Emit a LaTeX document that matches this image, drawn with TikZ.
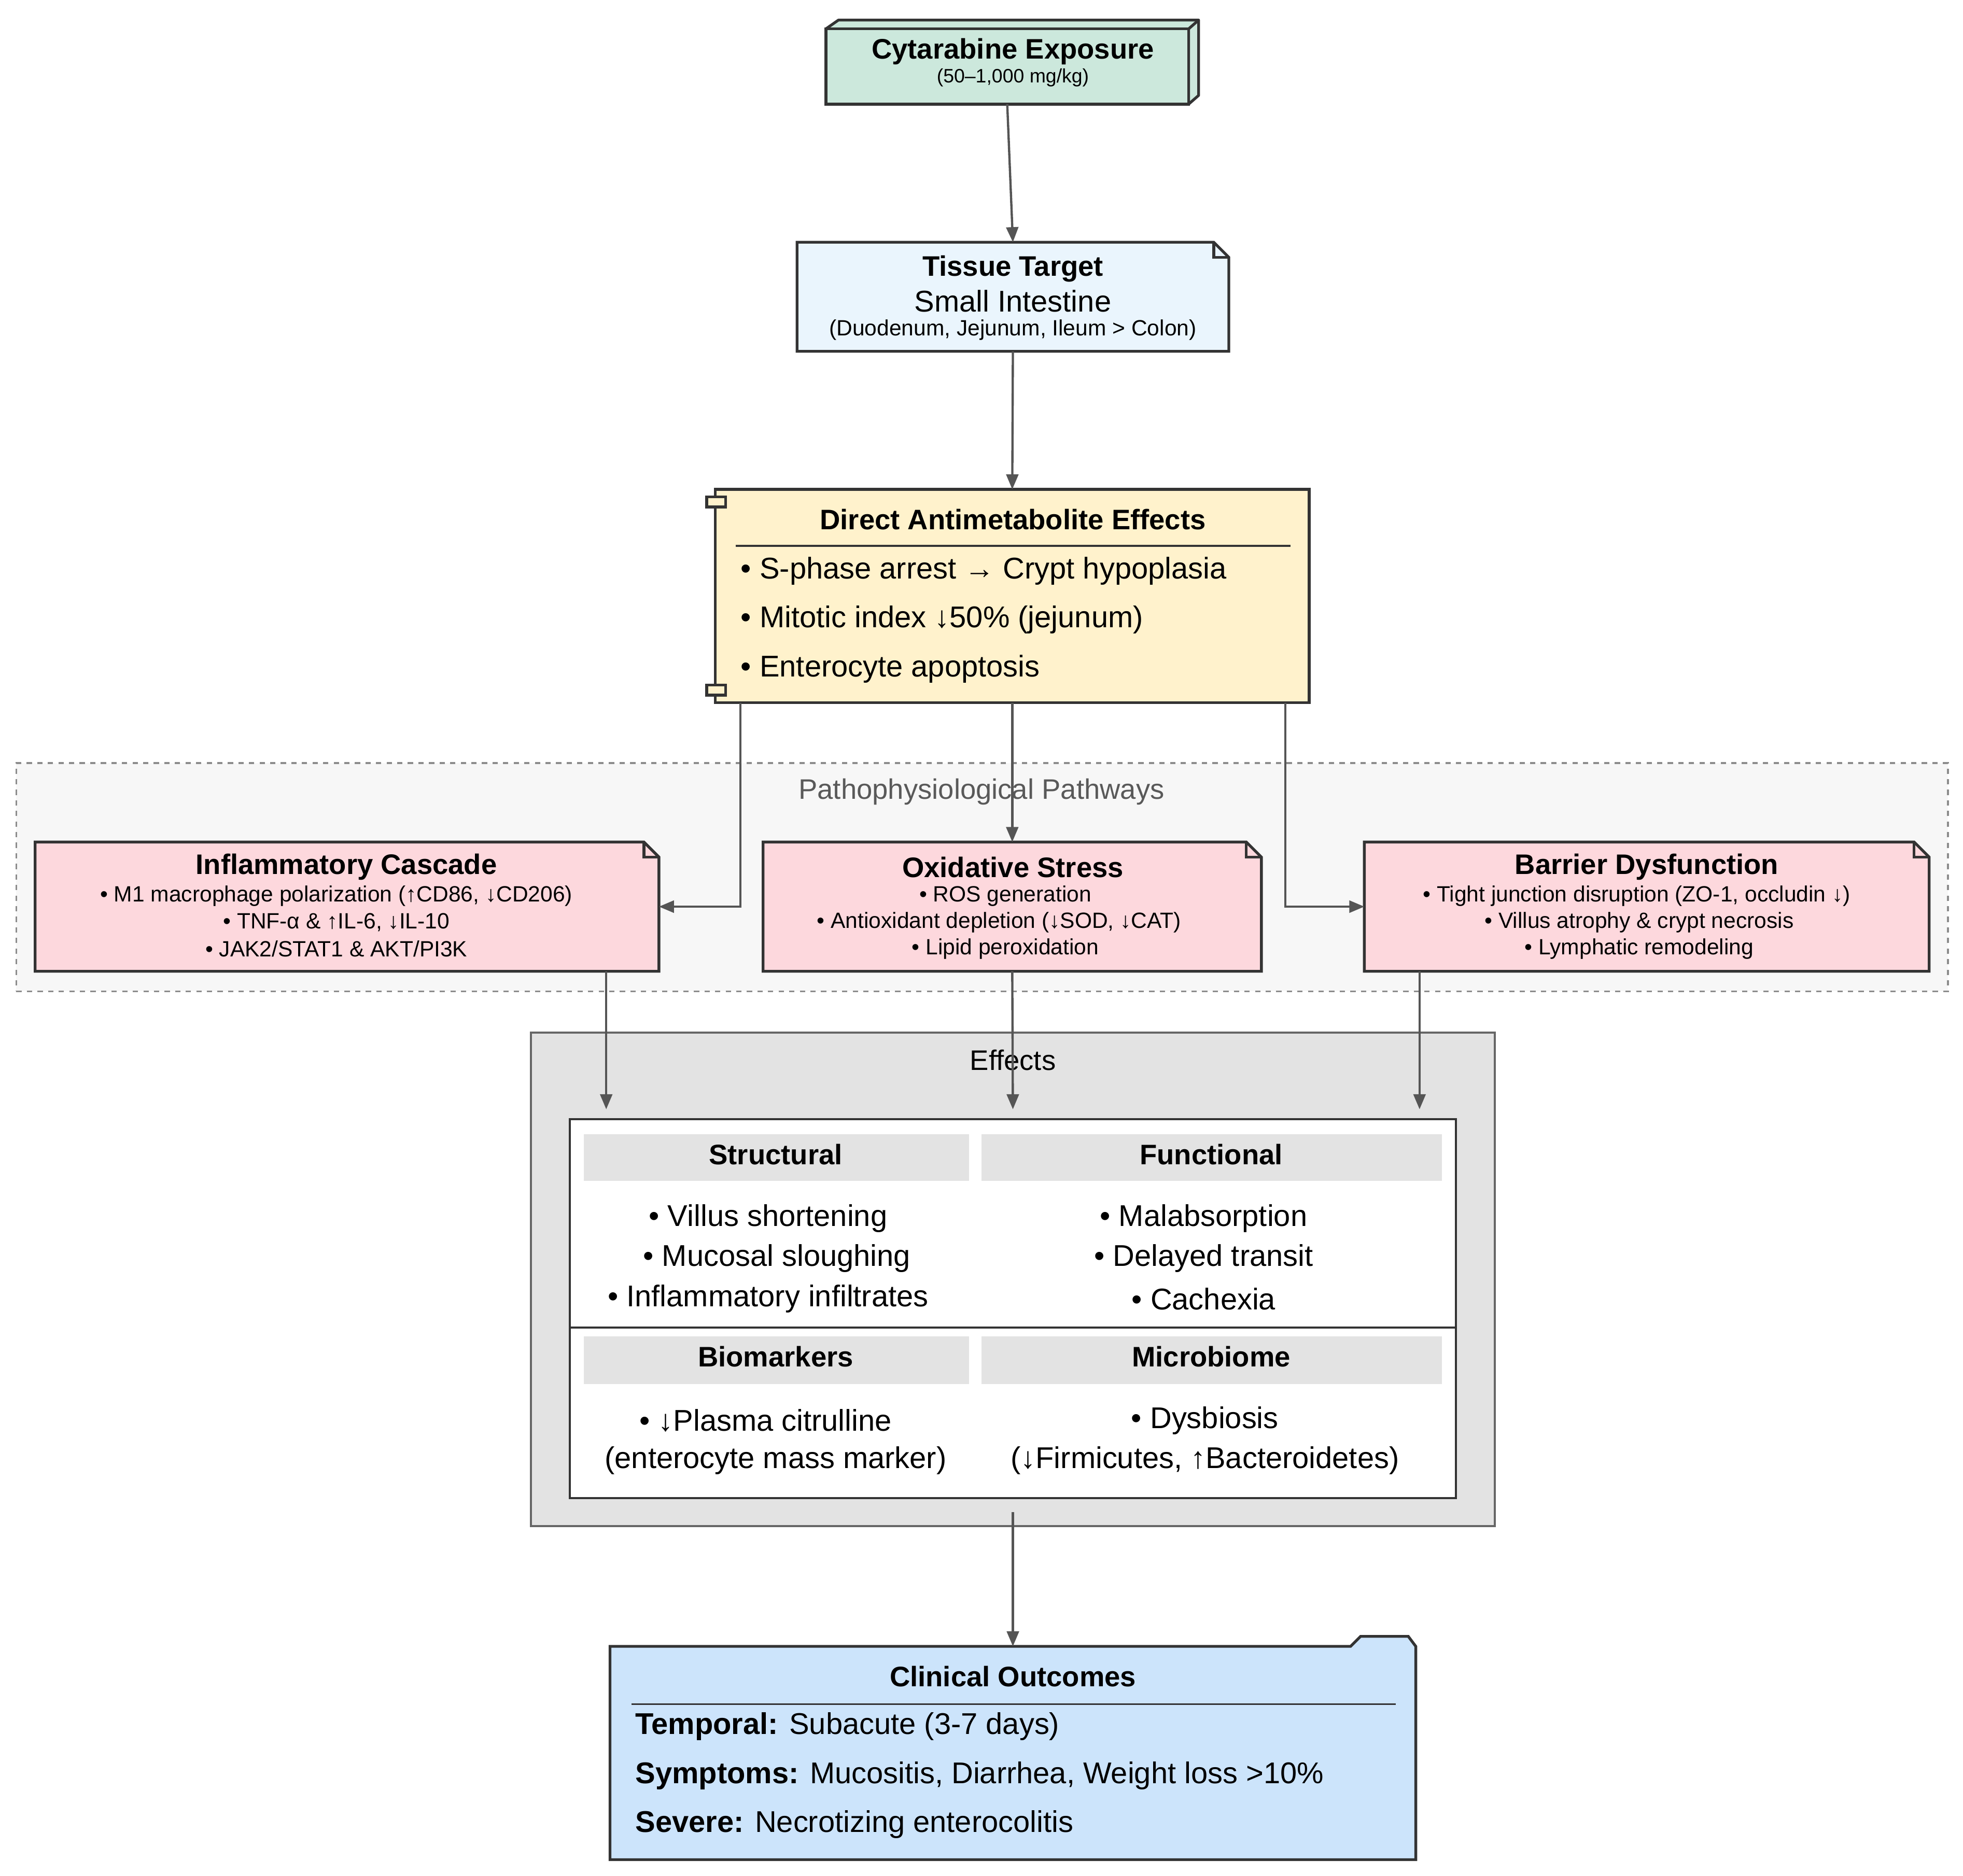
\documentclass[tikz,border=0pt]{standalone}
\usepackage{fontspec}
\setmainfont{Liberation Sans}
\usetikzlibrary{fit,arrows.meta}
\definecolor{bd}{HTML}{333333}
\definecolor{ar}{HTML}{555555}
\definecolor{mint}{HTML}{CCE8DC}
\definecolor{lb}{HTML}{EAF5FD}
\definecolor{ye}{HTML}{FFF2CC}
\definecolor{pk}{HTML}{FDD8DD}
\definecolor{bl}{HTML}{CCE4FB}
\begin{document}
\begin{tikzpicture}[x=0.25mm,y=-0.25mm,
  box/.style={inner sep=0,outer sep=0},
  ln/.style={draw=bd,line width=0.55mm},
  arr/.style={draw=ar,line width=0.45mm,-{Triangle[length=3mm,width=2.4mm]}},
  tt/.style={font=\fontsize{16}{18}\selectfont\bfseries,inner sep=0},
  big/.style={font=\fontsize{17}{20}\selectfont,inner sep=0},
  mid/.style={font=\fontsize{16}{19}\selectfont,inner sep=0},
  cel/.style={font=\fontsize{17}{20}\selectfont,inner sep=0},
  sm/.style={font=\fontsize{12.5}{14}\selectfont,inner sep=0}]
\useasboundingbox[fill=white] (0,0) rectangle (1564,1495);
% clusters
\node[box,fit={(13,608)(1552,790)},fill=black!3,draw=black!45,dashed,line width=0.35mm] (pcl) {};
\node[mid,text=black!65] (pcllab) at (782,631) {Pathophysiological Pathways};
\node[box,fit={(423,823)(1191,1216)},fill=black!11,draw=black!60,line width=0.4mm] (ecl) {};
\node[mid] (ecllab) at (807,845) {Effects};
% cytarabine
\filldraw[fill=mint,ln,line join=round] (658,23)--(668,16)--(955,16)--(955,76)--(947,83)--(947,23)--cycle;
\node[box,fit={(658,23)(947,83)},fill=mint,draw=bd,line width=0.55mm] (cyt) {};
\draw[ln] (947,23)--(955,16);
\node[tt] (cytt) at (807,41) {Cytarabine Exposure};
\node[font=\fontsize{11}{13}\selectfont,inner sep=0] (cyts) at (807,62) {(50–1,000 mg/kg)};
% tissue
\node[box,fit={(635,193)(979,280)}] (tis) {};
\filldraw[fill=lb,ln] (635,193)--(967,193)--(979,205)--(979,280)--(635,280)--cycle;
\draw[ln] (967,193)--(967,205)--(979,205);
\node[tt] (tist) at (807,214) {Tissue Target};
\node[cel] (tiss) at (807,240) {Small Intestine};
\node[sm] (tisd) at (807,263) {(Duodenum, Jejunum, Ileum > Colon)};
% direct
\node[box,fit={(570,390)(1043,560)},fill=ye,draw=bd,line width=0.55mm] (dir) {};
\filldraw[fill=ye,ln] (563,396) rectangle (578,404);
\filldraw[fill=ye,ln] (563,546) rectangle (578,554);
\node[tt] (dirt) at (807,414) {Direct Antimetabolite Effects};
\draw[bd,line width=0.35mm] (586,435)--(1028,435);
\node[big,anchor=west] (d1) at (590,455) {• S-phase arrest → Crypt hypoplasia};
\node[big,anchor=west] (d2) at (590,494) {• Mitotic index ↓50\% (jejunum)};
\node[big,anchor=west] (d3) at (590,533) {• Enterocyte apoptosis};
% pathway boxes
\foreach \n/\a/\b in {inf/28/525,oxi/608/1005,bar/1087/1537}{
  \node[box,fit={(\a,671)(\b,774)}] (\n) {};
  \filldraw[fill=pk,ln] (\a,671)--(\b-12,671)--(\b,683)--(\b,774)--(\a,774)--cycle;
  \draw[ln] (\b-12,671)--(\b-12,683)--(\b,683);
}
\node[tt] (inft) at (276,691) {Inflammatory Cascade};
\node[sm] (inf1) at (268,714) {• M1 macrophage polarization (↑CD86, ↓CD206)};
\node[sm] (inf2) at (268,735) {• TNF-α \& ↑IL-6, ↓IL-10};
\node[sm] (inf3) at (268,756) {• JAK2/STAT1 \& AKT/PI3K};
\node[tt] (oxit) at (807,691) {Oxidative Stress};
\node[sm] (oxi1) at (801,714) {• ROS generation};
\node[sm] (oxi2) at (796,735) {• Antioxidant depletion (↓SOD, ↓CAT)};
\node[sm] (oxi3) at (801,756) {• Lipid peroxidation};
\node[tt] (bart) at (1312,691) {Barrier Dysfunction};
\node[sm] (bar1) at (1304,714) {• Tight junction disruption (ZO-1, occludin ↓)};
\node[sm] (bar2) at (1306,735) {• Villus atrophy \& crypt necrosis};
\node[sm] (bar3) at (1306,756) {• Lymphatic remodeling};
% effects table
\node[box,fit={(454,892)(1160,1194)},fill=white,draw=bd,line width=0.4mm] (tab) {};
\fill[black!11] (465,904) rectangle (772,941);
\fill[black!11] (782,904) rectangle (1149,941);
\fill[black!11] (465,1065) rectangle (772,1103);
\fill[black!11] (782,1065) rectangle (1149,1103);
\draw[bd,line width=0.35mm] (454,1058)--(1160,1058);
\node[tt] (h1) at (618,920) {Structural};
\node[tt] (h2) at (965,920) {Functional};
\node[tt] (h3) at (618,1081) {Biomarkers};
\node[tt] (h4) at (965,1081) {Microbiome};
\node[cel] (s1) at (612,971) {• Villus shortening};
\node[cel] (s2) at (619,1003) {• Mucosal sloughing};
\node[cel] (s3) at (612,1035) {• Inflammatory infiltrates};
\node[cel] (f1) at (959,971) {• Malabsorption};
\node[cel] (f2) at (959,1003) {• Delayed transit};
\node[cel] (f3) at (959,1035) {• Cachexia};
\node[cel] (b1) at (610,1132) {• ↓Plasma citrulline};
\node[cel] (b2) at (618,1164) {(enterocyte mass marker)};
\node[cel] (m1) at (960,1132) {• Dysbiosis};
\node[cel] (m2) at (960,1164) {(↓Firmicutes, ↑Bacteroidetes)};
% clinical
\node[box,fit={(486,1312)(1128,1482)}] (cli) {};
\filldraw[fill=bl,ln] (486,1312)--(1076,1312)--(1084,1304)--(1122,1304)--(1128,1312)--(1128,1482)--(486,1482)--cycle;
\node[tt] (clit) at (807,1336) {Clinical Outcomes};
\draw[bd,line width=0.35mm] (503,1358)--(1112,1358);
\node[big,anchor=west] (c1) at (506,1376) {\textbf{Temporal:} Subacute (3-7 days)};
\node[big,anchor=west] (c2) at (506,1415) {\textbf{Symptoms:} Mucositis, Diarrhea, Weight loss >10\%};
\node[big,anchor=west] (c3) at (506,1454) {\textbf{Severe:} Necrotizing enterocolitis};
% arrows
\coordinate (e1) at (483,884);
\coordinate (e2) at (807,884);
\coordinate (e3) at (1131,884);
\coordinate (dl) at (590,560);
\coordinate (dr) at (1024,560);
\coordinate (es) at (807,1205);
\draw[arr] (cyt.south) -- (tis.north);
\draw[arr] (tis.south) -- (dir.north);
\draw[arr] (dl) |- (inf.east);
\draw[arr] (dir.south) -- (oxi.north);
\draw[arr] (dr) |- (bar.west);
\draw[arr] (inf.south -| e1) -- (e1);
\draw[arr] (oxi.south) -- (e2);
\draw[arr] (bar.south -| e3) -- (e3);
\draw[arr] (es) -- (cli.north);
\end{tikzpicture}
\end{document}
